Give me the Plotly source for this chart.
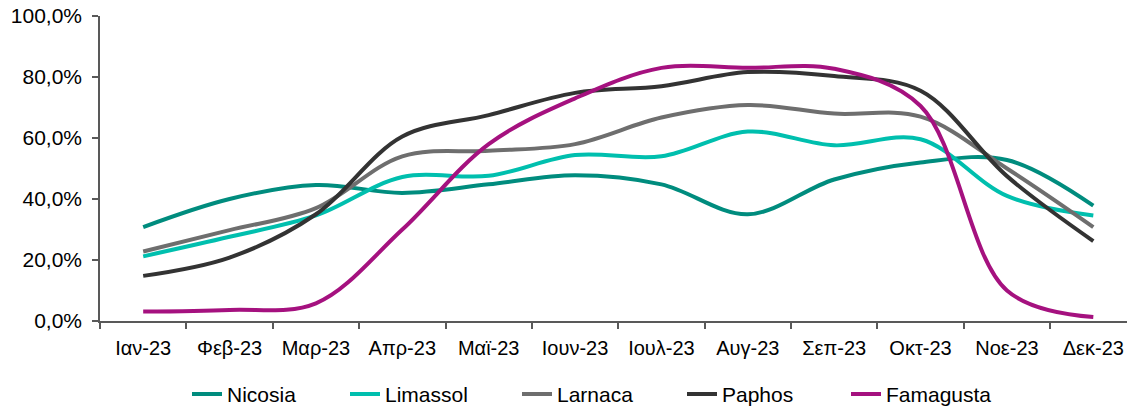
import plotly.graph_objects as go

months = ["Ιαν-23", "Φεβ-23", "Μαρ-23", "Απρ-23", "Μαϊ-23", "Ιουν-23",
          "Ιουλ-23", "Αυγ-23", "Σεπ-23", "Οκτ-23", "Νοε-23", "Δεκ-23"]

nicosia   = [30.8, 40.0, 44.6, 42.0, 44.8, 47.8, 44.8, 35.0, 46.4, 52.0, 52.8, 37.8]
limassol  = [21.2, 27.6, 34.6, 47.2, 47.6, 54.4, 54.0, 62.1, 57.6, 59.6, 41.0, 34.6]
larnaca   = [22.8, 29.8, 37.0, 54.0, 55.8, 58.0, 66.7, 70.8, 68.0, 67.0, 50.0, 30.8]
paphos    = [14.8, 20.8, 35.0, 60.5, 67.5, 74.8, 77.0, 81.6, 80.3, 75.5, 47.5, 26.2]
famagusta = [3.1, 3.6, 5.8, 30.0, 58.0, 73.0, 83.0, 83.0, 82.7, 70.5, 10.0, 1.3]

y_ticks = [0, 20, 40, 60, 80, 100]
y_tick_text = ["0,0%", "20,0%", "40,0%", "60,0%", "80,0%", "100,0%"]

series = [
    ("Nicosia", nicosia, "#008C7E"),
    ("Limassol", limassol, "#00BFAE"),
    ("Larnaca", larnaca, "#6E6E6E"),
    ("Paphos", paphos, "#333333"),
    ("Famagusta", famagusta, "#A5117F"),
]

plot_left, plot_top, plot_w, plot_h = 100, 16, 1027, 312

# legend text start positions in px -> separate legends for exact placement
legend_text_x = [228, 386, 558, 723, 887]

font_family = "Liberation Sans, Arial, sans-serif"
axis_color = "#595959"

fig = go.Figure()
layout_legends = {}
for i, (name, vals, color) in enumerate(series):
    key = "legend" if i == 0 else f"legend{i+1}"
    fig.add_trace(go.Scatter(
        x=months, y=vals, name=name, mode="lines",
        line=dict(color=color, width=4, shape="spline", smoothing=1.0),
        legend=key,
    ))
    layout_legends[key] = dict(
        orientation="h",
        x=(legend_text_x[i] - 41 - plot_left) / plot_w, xanchor="left",
        y=-75 / plot_h, yanchor="middle",
        font=dict(family=font_family, size=21, color="#000000"),
        bgcolor="rgba(0,0,0,0)",
    )

fig.update_layout(
    template="none",
    width=1127, height=415,
    margin=dict(l=plot_left, r=1127 - plot_left - plot_w, t=plot_top, b=415 - plot_top - plot_h),
    paper_bgcolor="white", plot_bgcolor="white",
    font=dict(family=font_family, size=20, color="#000000"),
    showlegend=True,
    xaxis=dict(
        type="category", range=[-0.5, 11.39], automargin=False,
        showline=True, linecolor=axis_color, linewidth=1.5,
        ticks="outside", tickson="boundaries", ticklen=6, tickcolor=axis_color, tickwidth=1.5,
        showgrid=False, zeroline=False,
        tickfont=dict(family=font_family, size=20, color="#000000"),
        ticklabelstandoff=8, ticklabeloverflow="allow",
    ),
    yaxis=dict(
        range=[0, 100], tickvals=y_ticks, ticktext=y_tick_text, automargin=False,
        showline=True, linecolor=axis_color, linewidth=1.5,
        ticks="outside", ticklen=6, tickcolor=axis_color, tickwidth=1.5,
        showgrid=False, zeroline=False,
        tickfont=dict(family=font_family, size=21, color="#000000"),
        ticklabelstandoff=6, ticklabeloverflow="allow",
    ),
    **layout_legends,
)

fig.write_html("out.html",
               config={"displayModeBar": False},
               post_script="document.body.style.margin='0';document.body.style.overflow='hidden';")
